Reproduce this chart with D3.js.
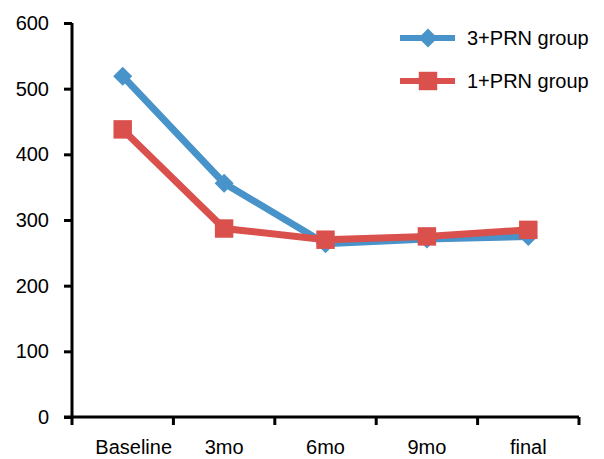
<!DOCTYPE html>
<html>
<head>
<meta charset="utf-8">
<script src="https://cdn.jsdelivr.net/npm/d3@7"></script>
<style>
  body { margin: 0; background: #fff; }
  text { font-family: "Liberation Sans", Arial, sans-serif; fill: #000; }
</style>
</head>
<body>
<div id="chart"></div>
<script>
// time points and the two treatment groups
var categories = ["Baseline", "3mo", "6mo", "9mo", "final"];
var group3PRN = [519, 356, 264, 271, 275];
var group1PRN = [438, 287, 270, 275, 285];
var yTicks = [0, 100, 200, 300, 400, 500, 600];

const svgWidth = 604;
const svgHeight = 459;
const margins = {top: 23, right: 25, bottom: 42, left: 72};

var series = [
  {name: "3+PRN group", values: group3PRN, color: "#4893c9", marker: "diamond"},
  {name: "1+PRN group", values: group1PRN, color: "#d9504d", marker: "square"}
];

var svg = d3.select("#chart").append("svg")
  .attr("width", svgWidth)
  .attr("height", svgHeight);

var x = d3.scaleBand()
  .domain(categories)
  .range([margins.left, svgWidth - margins.right])
  .padding(0);

var y = d3.scaleLinear()
  .domain([0, 600])
  .range([svgHeight - margins.bottom, margins.top]);

// y axis
var yAxis = svg.append("g")
  .attr("transform", "translate(" + margins.left + ",0)")
  .call(d3.axisLeft(y).tickValues(yTicks).tickSize(8).tickPadding(15));
yAxis.select(".domain").attr("stroke-width", 3).attr("d", "M0," + y(600) + "V" + (y(0) + 8));
yAxis.selectAll(".tick line").attr("stroke-width", 3);
yAxis.selectAll("text").style("font-size", "20px");

// x axis: ticks at the band boundaries, labels at band centres
var xAxis = svg.append("g")
  .attr("transform", "translate(0," + y(0) + ")");
xAxis.append("line")
  .attr("x1", margins.left - 8)
  .attr("x2", svgWidth - margins.right)
  .attr("stroke", "#000")
  .attr("stroke-width", 3);
var edges = categories.map(function(c) { return x(c); }).concat([x.range()[1]]);
xAxis.selectAll(".edge")
  .data(edges.slice(1))
  .enter()
  .append("line")
  .attr("class", "edge")
  .attr("x1", function(d) { return d; })
  .attr("x2", function(d) { return d; })
  .attr("y1", 0)
  .attr("y2", 8)
  .attr("stroke", "#000")
  .attr("stroke-width", 3);
xAxis.selectAll(".lab")
  .data(categories)
  .enter()
  .append("text")
  .attr("class", "lab")
  .attr("x", function(d) { return x(d) + x.bandwidth() / 2 + (d === "Baseline" ? 11 : 0); })
  .attr("y", 37)
  .attr("text-anchor", "middle")
  .style("font-size", "20px")
  .text(function(d) { return d; });

var line = d3.line()
  .x(function(d, i) { return x(categories[i]) + x.bandwidth() / 2; })
  .y(function(d) { return y(d); });

var diamond = d3.symbol().type(d3.symbolDiamond2).size(230);
var square = d3.symbol().type(d3.symbolSquare).size(340);

// draw the 3+PRN first so the 1+PRN sits on top
series.forEach(function(s) {
  svg.append("path")
    .datum(s.values)
    .attr("fill", "none")
    .attr("stroke", s.color)
    .attr("stroke-width", 7)
    .attr("d", line);

  svg.selectAll(".m-" + s.marker)
    .data(s.values)
    .enter()
    .append("path")
    .attr("class", "m-" + s.marker)
    .attr("transform", function(d, i) {
      return "translate(" + (x(categories[i]) + x.bandwidth() / 2) + "," + y(d) + ")";
    })
    .attr("d", s.marker === "diamond" ? diamond : square)
    .attr("fill", s.color);
});

// legend
var legend = svg.selectAll(".legend")
  .data(series)
  .enter()
  .append("g")
  .attr("class", "legend")
  .attr("transform", function(d, i) { return "translate(400," + (38 + i * 43) + ")"; });
legend.append("line")
  .attr("x1", 0)
  .attr("x2", 55)
  .attr("stroke", function(d) { return d.color; })
  .attr("stroke-width", 6);
legend.append("path")
  .attr("transform", "translate(28,0)")
  .attr("d", function(d) { return d.marker === "diamond" ? diamond() : square(); })
  .attr("fill", function(d) { return d.color; });
legend.append("text")
  .attr("x", 67)
  .attr("dy", "0.35em")
  .style("font-size", "20px")
  .text(function(d) { return d.name; });
</script>
</body>
</html>
